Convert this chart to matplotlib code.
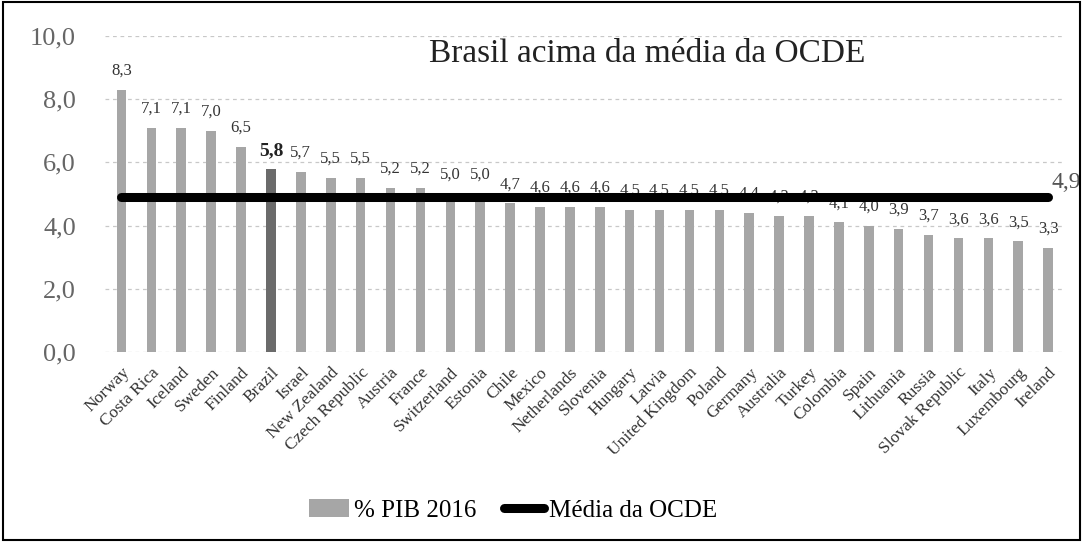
import matplotlib
matplotlib.use('Agg')
import matplotlib.pyplot as plt
from matplotlib.patches import Rectangle

SERIF = ['Liberation Serif', 'DejaVu Serif']
plt.rcParams['font.family'] = SERIF

# dados
paises = ['Norway', 'Costa Rica', 'Iceland', 'Sweden', 'Finland', 'Brazil', 'Israel',
          'New Zealand', 'Czech Republic', 'Austria', 'France', 'Switzerland', 'Estonia',
          'Chile', 'Mexico', 'Netherlands', 'Slovenia', 'Hungary', 'Latvia',
          'United Kingdom', 'Poland', 'Germany', 'Australia', 'Turkey', 'Colombia',
          'Spain', 'Lithuania', 'Russia', 'Slovak Republic', 'Italy', 'Luxembourg', 'Ireland']
pib_2016 = [8.3, 7.1, 7.1, 7.0, 6.5, 5.8, 5.7, 5.5, 5.5, 5.2, 5.2, 5.0, 5.0, 4.7, 4.6, 4.6,
            4.6, 4.5, 4.5, 4.5, 4.5, 4.4, 4.3, 4.3, 4.1, 4.0, 3.9, 3.7, 3.6, 3.6, 3.5, 3.3]
media_ocde = 4.9
destaque = 'Brazil'
yticks = [0, 2, 4, 6, 8, 10]

fig = plt.figure(figsize=(10.83, 5.42), dpi=100)
ax = fig.add_axes([0.097, 0.3506, 0.886, 0.583])

x = list(range(len(paises)))
cores = ['#6b6b6b' if p == destaque else '#a6a6a6' for p in paises]
barras = ax.bar(x, pib_2016, width=0.32, color=cores, label='% PIB 2016', zorder=2)
linha, = ax.plot([x[0], x[-1]], [media_ocde] * 2, color='black', lw=6.5,
                 solid_capstyle='round', label='Média da OCDE', zorder=4)

for xi, v, p in zip(x, pib_2016, paises):
    fmt = f'{v:.1f}'.replace('.', ',')
    if p == destaque:
        ax.text(xi, v + 0.3, fmt, ha='center', va='bottom', fontsize=14,
                fontweight='bold', color='#222222', family=SERIF, zorder=3)
    else:
        ax.text(xi, v + 0.35, fmt, ha='center', va='bottom', fontsize=12,
                color='#333333', family=SERIF, zorder=3)

ax.text(x[-1] + 0.1, media_ocde + 0.45, f'{media_ocde:.1f}'.replace('.', ','),
        ha='left', va='center', fontsize=17, color='#555555', family=SERIF)

ax.set_xlim(-0.55, len(paises) - 0.45)
ax.set_ylim(0, 10)
ax.set_yticks(yticks)
ax.set_yticklabels([f'{t:.1f}'.replace('.', ',') for t in yticks], fontsize=19,
                   color='#666666', family=SERIF)
ax.set_xticks(x)
ax.set_xticklabels(paises, rotation=45, ha='right', rotation_mode='anchor',
                   fontsize=12.5, color='#333333', family=SERIF)
ax.tick_params(length=0, pad=21, axis='y')
ax.tick_params(length=0, pad=9, axis='x')
ax.grid(axis='y', color='#c8c8c8', linestyle=(0, (3, 3)), lw=0.9, zorder=0)
for s in ax.spines.values():
    s.set_visible(False)

ax.set_title('Brasil acima da média da OCDE', fontsize=24, color='#222222',
             family=SERIF, x=0.565, y=0.89)

fig.legend(handles=[barras, linha], loc='center', bbox_to_anchor=(0.474, 0.058), ncol=2,
           frameon=False, prop={'family': SERIF, 'size': 18}, handlelength=1.6,
           columnspacing=1.1, handletextpad=0.2)

fig.patches.append(Rectangle((0.003, 0.003), 0.994, 0.993, transform=fig.transFigure,
                             fill=False, edgecolor='black', lw=1.5))

fig.savefig('out.png', dpi=100)
